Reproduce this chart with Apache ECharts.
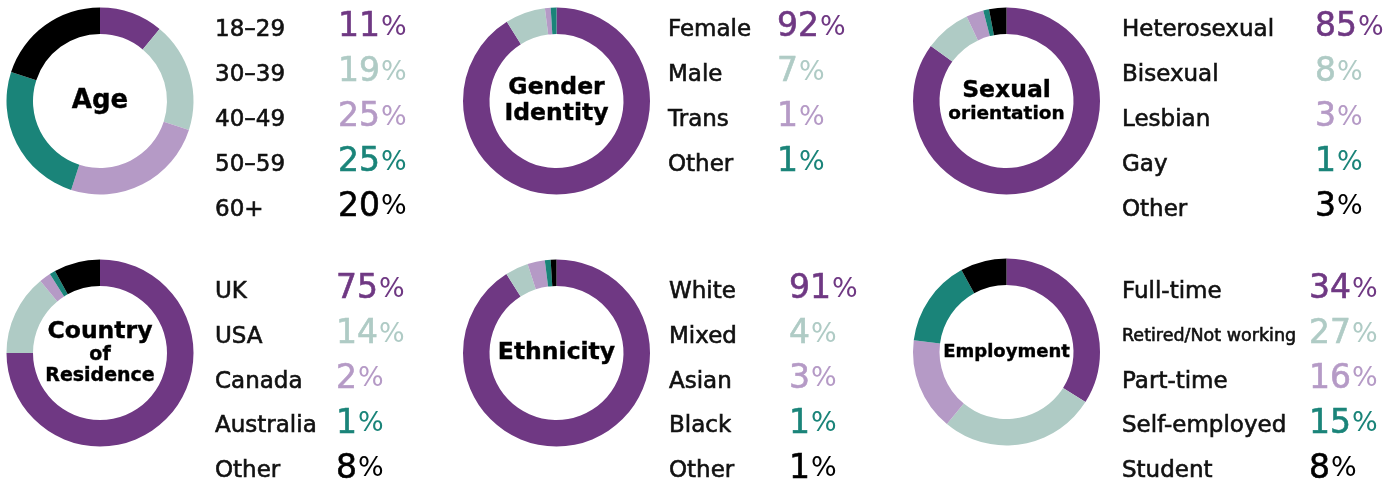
<!DOCTYPE html>
<html><head><meta charset="utf-8">
<script src="https://cdn.jsdelivr.net/npm/echarts@6/dist/echarts.min.js"></script>
<style>html,body{margin:0;padding:0;background:#fff}#c{width:1400px;height:484px}</style>
</head><body><div id="c"></div>
<script>
const ageLabels = ['18–29','30–39','40–49','50–59','60+'];
const ageValues = [11,19,25,25,20];
const genderLabels = ['Female','Male','Trans','Other'];
const genderValues = [92,7,1,1];
const sexLabels = ['Heterosexual','Bisexual','Lesbian','Gay','Other'];
const sexValues = [85,8,3,1,3];
const countryLabels = ['UK','USA','Canada','Australia','Other'];
const countryValues = [75,14,2,1,8];
const ethLabels = ['White','Mixed','Asian','Black','Other'];
const ethValues = [91,4,3,1,1];
const empLabels = ['Full-time','Retired/Not working','Part-time','Self-employed','Student'];
const empValues = [34,27,16,15,8];

const COLORS = ['#6f3883','#afcbc5','#b59ac6','#1a8479','#000000'];
const FONT = '"DejaVu Sans", sans-serif';

const panels = [
  {title:['Age'], tsize:[26], labels:ageLabels, values:ageValues, cx:100, cy:101, lx:215, px:338, y0:30},
  {title:['Gender','Identity'], tsize:[23.5,23.5], labels:genderLabels, values:genderValues, cx:556.5, cy:101, lx:668, px:777, y0:30},
  {title:['Sexual','orientation'], tsize:[23.5,18.5], labels:sexLabels, values:sexValues, cx:1006.5, cy:101, lx:1122, px:1315, y0:30},
  {title:['Country','of','Residence'], tsize:[23.5,19,19], labels:countryLabels, values:countryValues, cx:100, cy:353, lx:215, px:336, y0:291.8},
  {title:['Ethnicity'], tsize:[23.5], labels:ethLabels, values:ethValues, cx:556.5, cy:353, lx:669, px:789, y0:291.8},
  {title:['Employment'], tsize:[18], labels:empLabels, values:empValues, cx:1006.5, cy:352, lx:1122, px:1309, y0:291.8}
];
const STEP = 44.9;

const series = [];
const graphic = [];
panels.forEach(p => {
  series.push({
    type:'pie', radius:[67,93.5], center:[p.cx,p.cy], startAngle:90, clockwise:true,
    silent:true, label:{show:false}, labelLine:{show:false},
    itemStyle:{borderWidth:0},
    data:p.values.map((v,i)=>({value:v, name:p.labels[i], itemStyle:{color:COLORS[i]}}))
  });
  const lh = p.tsize.map(s=>s*1.1);
  const total = lh.reduce((a,b)=>a+b,0);
  let yy = p.cy - total/2;
  p.title.forEach((t,i)=>{
    graphic.push({type:'text', x:p.cx, y:yy+lh[i]/2, silent:true,
      style:{text:t, fill:'#000', stroke:'#000', lineWidth:0.4, font:`bold ${p.tsize[i]}px ${FONT}`, align:'center', verticalAlign:'middle'}});
    yy += lh[i];
  });
  p.labels.forEach((lab,i)=>{
    const y = p.y0 + i*STEP;
    const small = lab.length > 15;
    const fs = small ? 17.5 : 23;
    graphic.push({type:'text', x:p.lx, y:y, silent:true,
      style:{text:lab, fill:'#111', stroke:'#111', lineWidth:0.6, font:`${fs}px ${FONT}`, align:'left', verticalAlign:'middle'}});
    graphic.push({type:'text', x:p.px, y:y-2.2, silent:true,
      style:{text:`{n|${p.values[i]}}{p|%}`, align:'left', verticalAlign:'middle',
        rich:{
          n:{fill:COLORS[i], stroke:COLORS[i], lineWidth:0.6, font:`33px ${FONT}`, lineHeight:40, verticalAlign:'middle'},
          p:{fill:COLORS[i], font:`27px ${FONT}`, lineHeight:40, verticalAlign:'middle', padding:[0,0,0,1]}
        }}});
  });
});

const chart = echarts.init(document.getElementById('c'), null, {renderer:'canvas'});
chart.setOption({animation:false, series, graphic});
</script></body></html>
